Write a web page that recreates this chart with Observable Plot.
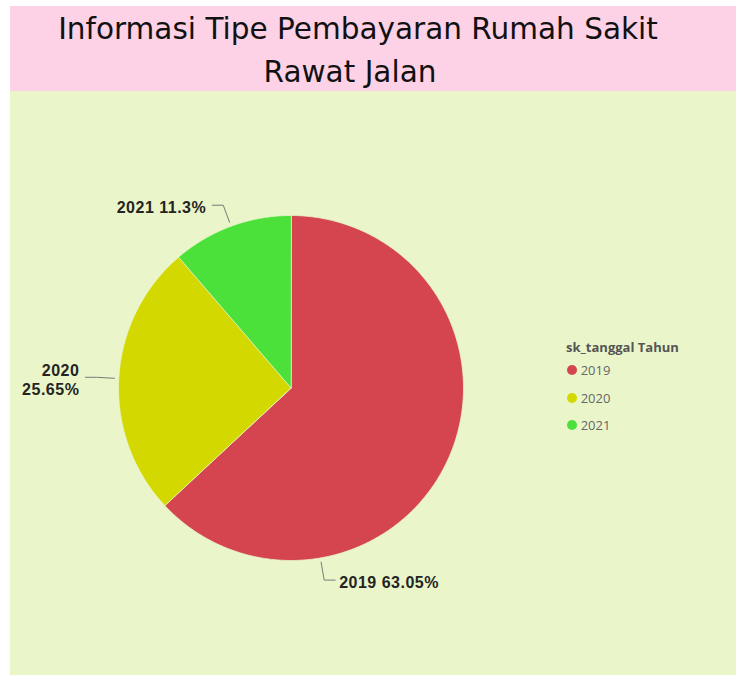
<!DOCTYPE html>
<html>
<head>
<meta charset="utf-8">
<script src="https://cdn.jsdelivr.net/npm/d3@7"></script>
<script src="https://cdn.jsdelivr.net/npm/@observablehq/plot@0.6"></script>
<style>
  html, body { margin: 0; padding: 0; background: #ffffff; }
  #wrap { position: relative; width: 736px; height: 675px; overflow: hidden; }
  #header { position: absolute; left: 10px; top: 6px; width: 726px; height: 85px; background: #FDD2E6; }
  #chart { position: absolute; left: 10px; top: 91px; width: 726px; height: 584px; background: #EAF6CA; }
  #chart svg text { letter-spacing: 0.5px; }
  #legend { position: absolute; left: 566px; top: 338px; font-family: "Open Sans", sans-serif; }
  #legend .title { font-size: 13px; font-weight: 700; color: #555555; line-height: 18px; white-space: nowrap; }
  #legend .item { position: relative; height: 27.5px; }
  #legend .dot { position: absolute; left: 1.3px; width: 10px; height: 10px; border-radius: 50%; }
  #legend .lab { position: absolute; left: 14.7px; font-size: 13px; color: #666666; line-height: 18px; }
</style>
</head>
<body>
<div id="wrap">
  <div id="header"></div>
  <div id="chart"></div>
  <div id="legend"></div>
</div>
<script>
// ---- data ----
const titleLines = ["Informasi Tipe Pembayaran Rumah Sakit", "Rawat Jalan"];
const years = ["2019", "2020", "2021"];
const percents = [63.05, 25.65, 11.3];
const colors = ["#D5454F", "#D3D800", "#4CE03B"];
const legendTitle = "sk_tanggal Tahun";

// ---- header (title) ----
const svgNS = "http://www.w3.org/2000/svg";
const header = document.getElementById("header");
const hsvg = document.createElementNS(svgNS, "svg");
hsvg.setAttribute("width", 726); hsvg.setAttribute("height", 85);
header.appendChild(hsvg);
const titlePos = [{cx: 348, base: 33.3}, {cx: 340, base: 75.6}];
const titleEls = titleLines.map((t, i) => {
  const el = document.createElementNS(svgNS, "text");
  el.textContent = t;
  el.setAttribute("x", titlePos[i].cx);
  el.setAttribute("y", titlePos[i].base);
  el.setAttribute("text-anchor", "middle");
  el.setAttribute("font-family", "DejaVu Sans");
  el.setAttribute("font-size", 30);
  el.setAttribute("fill", "#111111");
  hsvg.appendChild(el);
  return el;
});
// fit line 1 to the reference width (~600px)
const len0 = titleEls[0].getComputedTextLength();
const fs = 30 * 600 / len0;
titleEls.forEach(el => el.setAttribute("font-size", fs));

// ---- pie geometry ----
const cx = 280.5, cy = 296.5, R = 172.5;
const bg = "#EAF6CA";
const arcs = d3.pie().sort(null).startAngle(0).endAngle(2 * Math.PI)(percents);
const slicePts = [];
arcs.forEach((a, i) => {
  slicePts.push({year: years[i], x: 0, y: 0});
  const n = Math.max(2, Math.ceil((a.endAngle - a.startAngle) / (Math.PI / 360)));
  for (let k = 0; k <= n; k++) {
    const t = a.startAngle + (a.endAngle - a.startAngle) * k / n;
    slicePts.push({year: years[i], x: Math.sin(t), y: Math.cos(t)});
  }
});

// leader lines & labels
const labelAngleOverride = {"2019": 170.2 * Math.PI / 180};
const wrapLabel = {"2020": true};
const leaderPts = [];
const labels = [];
arcs.forEach((a, i) => {
  const yr = years[i];
  const ang = labelAngleOverride[yr] ?? (a.startAngle + a.endAngle) / 2;
  const s = Math.sin(ang), c = Math.cos(ang);
  const side = s >= 0 ? 1 : -1;
  const r1 = 1.025, r2 = 1.13, h = 11 / R;
  const p1 = {year: yr, x: r1 * s, y: r1 * c};
  const p2 = {year: yr, x: r2 * s, y: r2 * c};
  const p3 = {year: yr, x: r2 * s + side * h, y: r2 * c};
  leaderPts.push(p1, p2, p3);
  const txt = wrapLabel[yr] ? `${yr}\n${percents[i]}%` : `${yr} ${percents[i]}%`;
  labels.push({year: yr, x: p3.x, y: p3.y, text: txt, side});
});

const chart = Plot.plot({
  width: 726,
  height: 584,
  margin: 0,
  style: {background: "transparent", overflow: "visible"},
  x: {domain: [-1, 1], range: [cx - R, cx + R], axis: null},
  y: {domain: [-1, 1], range: [cy + R, cy - R], axis: null},
  color: {domain: years, range: colors},
  marks: [
    Plot.line(slicePts, {x: "x", y: "y", z: "year", fill: "year", stroke: bg, strokeWidth: 0.8, curve: "linear-closed"}),
    Plot.line(leaderPts, {x: "x", y: "y", z: "year", stroke: "#7a7a7a", strokeWidth: 1}),
    Plot.text(labels.filter(d => d.side > 0), {x: "x", y: "y", text: "text", textAnchor: "start", dx: 4, dy: 2,
      fontSize: 16, fontWeight: "bold", fontFamily: "Liberation Sans", fill: "#252423", lineHeight: 1.2}),
    Plot.text(labels.filter(d => d.side < 0), {x: "x", y: "y", text: "text", textAnchor: "end", dx: -6, dy: 2,
      fontSize: 16, fontWeight: "bold", fontFamily: "Liberation Sans", fill: "#252423", lineHeight: 1.2})
  ]
});
document.getElementById("chart").appendChild(chart);

// ---- legend ----
const colorScale = chart.scale("color");
const legend = document.getElementById("legend");
const lt = document.createElement("div");
lt.className = "title"; lt.textContent = legendTitle;
legend.appendChild(lt);
const items = document.createElement("div");
items.style.marginTop = "5px";
years.forEach(yr => {
  const it = document.createElement("div"); it.className = "item";
  const dot = document.createElement("div"); dot.className = "dot";
  dot.style.background = colorScale.apply(yr); dot.style.top = "4px";
  const lab = document.createElement("div"); lab.className = "lab"; lab.textContent = yr; lab.style.top = "0px";
  it.appendChild(dot); it.appendChild(lab);
  items.appendChild(it);
});
legend.appendChild(items);
</script>
</body>
</html>
